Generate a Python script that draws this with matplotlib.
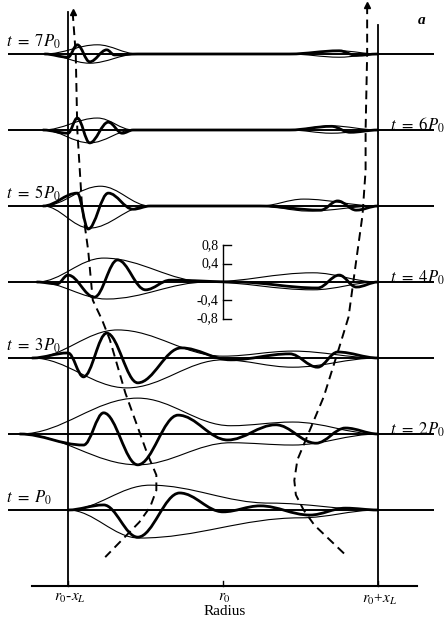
import matplotlib
matplotlib.use("Agg")
import matplotlib.pyplot as plt
from matplotlib.path import Path
from matplotlib.patches import PathPatch

# radius in units of x_L measured from r0, amplitude in scale-bar units
times = [1, 2, 3, 4, 5, 6, 7]
time_labels = [r"$t\ =\ P_0$", r"$t\ =\ 2P_0$", r"$t\ =\ 3P_0$", r"$t\ =\ 4P_0$",
               r"$t\ =\ 5P_0$", r"$t\ =\ 6P_0$", r"$t\ =\ 7P_0$"]

# extrema of the wave (radius, amplitude) for each time
wave = [
    [(-1.0, 0), (-0.77, 0.11), (-0.55, -0.59), (-0.28, 0.37), (0.0, -0.04),
     (0.24, 0.09), (0.56, -0.11), (0.79, 0.04), (1.0, 0)],
    [(-1.31, 0), (-0.9, -0.24), (-0.77, 0.46), (-0.55, -0.67), (-0.29, 0.41),
     (0.03, -0.13), (0.34, 0.2), (0.6, -0.2), (0.79, 0.13), (1.0, 0)],
    [(-1.23, 0), (-1.0, 0.11), (-0.9, -0.41), (-0.75, 0.54), (-0.55, -0.54),
     (-0.27, 0.22), (0.05, -0.04), (0.43, 0.09), (0.61, -0.2), (0.74, 0.13), (1.0, 0)],
    [(-1.2, 0), (-1.07, -0.04), (-1.0, 0.15), (-0.83, -0.33), (-0.68, 0.48),
     (-0.5, -0.17), (-0.34, 0.04), (0.08, 0), (0.61, -0.13), (0.75, 0.15),
     (0.86, -0.11), (1.0, 0)],
    [(-1.16, 0), (-0.94, 0.28), (-0.87, -0.5), (-0.74, 0.28), (-0.58, -0.07),
     (-0.47, 0), (0.24, 0), (0.63, -0.09), (0.74, 0.11), (0.86, -0.09), (1.0, 0)],
    [(-1.16, 0), (-1.0, -0.07), (-0.94, 0.26), (-0.86, -0.28), (-0.74, 0.17),
     (-0.65, -0.07), (-0.58, 0), (0.43, 0), (0.7, 0.08), (0.82, -0.05), (1.0, 0)],
    [(-1.15, 0), (-1.0, -0.07), (-0.94, 0.2), (-0.86, -0.17), (-0.75, 0.09),
     (-0.7, -0.02), (-0.55, 0), (0.43, 0), (0.75, 0.07), (0.86, -0.03), (1.0, 0)],
]

upper_env = [
    [(-1.0, 0), (-0.47, 0.54), (0.3, 0.15), (1.0, 0)],
    [(-1.31, 0), (-0.55, 0.78), (0.05, 0.18), (0.45, 0.26), (1.0, 0)],
    [(-1.23, 0), (-0.68, 0.61), (0.0, 0.04), (0.45, 0.15), (1.0, 0)],
    [(-1.2, 0), (-0.77, 0.52), (-0.1, 0.0), (0.58, 0.2), (1.0, 0)],
    [(-1.16, 0), (-0.79, 0.43), (-0.47, 0), (0.24, 0), (0.52, 0.15), (1.0, 0)],
    [(-1.16, 0), (-0.81, 0.26), (-0.58, 0), (0.43, 0), (0.7, 0.09), (1.0, 0)],
    [(-1.15, 0), (-0.81, 0.2), (-0.55, 0), (0.43, 0), (0.75, 0.07), (1.0, 0)],
]

lower_env = [
    [(-1.0, 0), (-0.54, -0.61), (0.5, -0.17), (1.0, 0)],
    [(-1.31, 0), (-0.55, -0.67), (0.05, -0.19), (0.45, -0.24), (1.0, 0)],
    [(-1.23, 0), (-0.62, -0.65), (0.0, -0.04), (0.45, -0.2), (1.0, 0)],
    [(-1.2, 0), (-0.75, -0.37), (-0.1, 0.0), (0.58, -0.17), (1.0, 0)],
    [(-1.16, 0), (-0.86, -0.48), (-0.49, 0), (0.24, 0), (0.55, -0.11), (1.0, 0)],
    [(-1.16, 0), (-0.86, -0.28), (-0.58, 0), (0.43, 0), (0.7, -0.07), (1.0, 0)],
    [(-1.15, 0), (-0.86, -0.2), (-0.55, 0), (0.43, 0), (0.75, -0.07), (1.0, 0)],
]

# packet trajectories (radius, time in P0)
left_track_r = [-0.97, -0.95, -0.94, -0.91, -0.87, -0.84, -0.78, -0.73, -0.63,
                -0.49, -0.43, -0.43, -0.47, -0.54, -0.76]
left_track_t = [7.55, 7.0, 6.0, 5.01, 4.42, 3.76, 3.5, 3.24, 2.54,
                1.75, 1.46, 1.26, 1.04, 0.84, 0.38]
right_track_r = [0.93, 0.93, 0.92, 0.92, 0.9, 0.86, 0.81, 0.75, 0.65,
                 0.56, 0.48, 0.46, 0.47, 0.52, 0.59, 0.79]
right_track_t = [7.64, 7.0, 6.0, 5.47, 4.88, 4.29, 3.54, 3.14, 2.49,
                 2.05, 1.66, 1.39, 1.2, 1.0, 0.8, 0.41]

scale_ticks = [0.8, 0.4, 0.0, -0.4, -0.8]
scale_labels = ["0,8", "0,4", "", "-0,4", "-0,8"]
radius_ticks = [-1.0, 0.0, 1.0]
radius_labels = [r"$r_0$-$x_L$", r"$r_0$", r"$r_0$+$x_L$"]

plt.rcParams["mathtext.fontset"] = "stix"
plt.rcParams["font.family"] = "Liberation Serif"

ROW = 76 / 46.0  # row spacing in amplitude units


def row_y(t):
    return (t - 1) * ROW


def smooth(pts, yoff):
    verts = [(pts[0][0], pts[0][1] + yoff)]
    codes = [Path.MOVETO]
    for (x0, y0), (x1, y1) in zip(pts[:-1], pts[1:]):
        dx = x1 - x0
        verts += [(x0 + 0.364 * dx, y0 + yoff), (x1 - 0.364 * dx, y1 + yoff), (x1, y1 + yoff)]
        codes += [Path.CURVE4] * 3
    return Path(verts, codes)


fig = plt.figure(figsize=(4.46, 6.19), dpi=100)
ax = fig.add_axes([0, 0, 1, 1])
ax.set_xlim(-223 / 155, 223 / 155)
ax.set_ylim(-109 / 46, 510 / 46)
ax.axis("off")

for i, t in enumerate(times):
    y0 = row_y(t)
    ax.plot([-1.39, 1.36], [y0, y0], color="k", lw=1.4, solid_capstyle="butt")
    ax.add_patch(PathPatch(smooth(upper_env[i], y0), fill=False, lw=0.8, ec="k"))
    ax.add_patch(PathPatch(smooth(lower_env[i], y0), fill=False, lw=0.8, ec="k"))
    ax.add_patch(PathPatch(smooth(wave[i], y0), fill=False, lw=2.0, ec="k",
                           capstyle="round", joinstyle="round"))
    if t % 2 == 1:
        ax.text(-1.40, y0 + 0.06, time_labels[i], fontsize=12, ha="left", va="bottom")
    else:
        ax.text(1.08, y0 - 0.1, time_labels[i], fontsize=12, ha="left", va="bottom")

# r0 - xL and r0 + xL boundaries
ax.plot([-1.0, -1.0], [row_y(0), 10.83], color="k", lw=1.3)
ax.plot([1.0, 1.0], [row_y(0), 10.54], color="k", lw=1.3)

# packet trajectories
ax.plot(left_track_r, [row_y(t) for t in left_track_t], color="k", lw=1.4,
        linestyle=(0, (4.5, 2.8)))
ax.plot(right_track_r, [row_y(t) for t in right_track_t], color="k", lw=1.4,
        linestyle=(0, (4.5, 2.8)))
ax.plot(left_track_r[0], row_y(left_track_t[0]), marker="^", ms=4, color="k")
ax.plot(right_track_r[0], row_y(right_track_t[0]), marker="^", ms=4, color="k")

# amplitude scale bar on the t = 4P0 row
yb = row_y(4)
ax.plot([0, 0], [yb + scale_ticks[-1], yb + scale_ticks[0]], color="k", lw=1.0)
for v, lab in zip(scale_ticks, scale_labels):
    if lab:
        ax.plot([0, 0.05], [yb + v, yb + v], color="k", lw=1.0)
        ax.text(-0.03, yb + v, lab, fontsize=10, ha="right", va="center")

# radius axis
ya = row_y(0)
ax.plot([-1.23, 1.25], [ya, ya], color="k", lw=1.5)
for r, lab in zip(radius_ticks, radius_labels):
    ax.plot([r, r], [ya, ya + 0.1], color="k", lw=1.0)
    ax.text(r + 0.01, ya - 0.12, lab, fontsize=11, ha="center", va="top")
ax.text(0.01, ya - 0.42, "Radius", fontsize=11, ha="center", va="top")

ax.text(1.28, 10.65, "a", fontsize=11, style="italic", weight="bold", ha="center", va="center")

fig.savefig("out.png", dpi=100)
